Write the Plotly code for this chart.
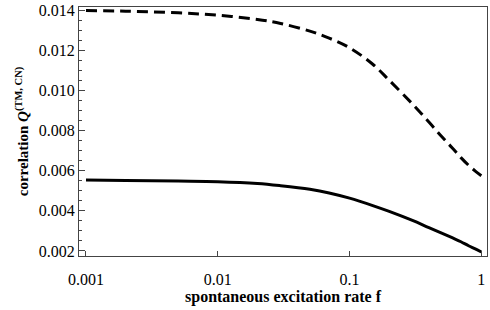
import plotly.graph_objects as go

f_vals = [0.001, 0.002, 0.005, 0.01, 0.02, 0.03, 0.05, 0.07, 0.1, 0.15,
          0.2, 0.3, 0.4, 0.5, 0.6, 0.7, 0.8, 0.9, 1.0]
q_solid = [0.00553, 0.00551, 0.00548, 0.00545, 0.00536, 0.00525, 0.00507,
           0.00489, 0.00463, 0.00426, 0.00397, 0.00352, 0.00316, 0.00289,
           0.00266, 0.00246, 0.00226, 0.00210, 0.00195]
q_dashed = [0.01397, 0.01394, 0.01386, 0.01374, 0.01353, 0.01333, 0.01295,
            0.01260, 0.01212, 0.01130, 0.01050, 0.00932, 0.00842, 0.00770,
            0.00714, 0.00665, 0.00627, 0.00598, 0.00575]
x_ticks = [0.001, 0.01, 0.1, 1]
x_ticklabels = ["0.001", "0.01", "0.1", "1"]
y_ticks = [0.002, 0.004, 0.006, 0.008, 0.010, 0.012, 0.014]
y_ticklabels = ["0.002", "0.004", "0.006", "0.008", "0.010", "0.012", "0.014"]

fig = go.Figure()
fig.add_trace(go.Scatter(x=f_vals, y=q_dashed, mode="lines",
                         line=dict(color="black", width=3, dash="11px,6px", shape="spline"),
                         showlegend=False))
fig.add_trace(go.Scatter(x=f_vals, y=q_solid, mode="lines",
                         line=dict(color="black", width=3, shape="spline"),
                         showlegend=False))

font_family = "Liberation Serif"
fig.update_layout(
    width=490, height=310,
    margin=dict(l=79, r=2, t=3, b=54),
    paper_bgcolor="white", plot_bgcolor="white",
    font=dict(family=font_family, color="black"),
)
fig.update_xaxes(
    type="log", range=[-3.053, 0.043],
    tickvals=x_ticks, ticktext=x_ticklabels,
    ticks="inside", ticklen=5, tickcolor="#444",
    showline=True, linecolor="#444", linewidth=1, mirror=True,
    showgrid=False, zeroline=False,
    ticklabelstandoff=9,
    tickfont=dict(size=16, family=font_family),
    title=dict(text="<b>spontaneous excitation rate f</b>", font=dict(size=16, family=font_family), standoff=3),
)
fig.update_yaxes(
    range=[0.00175, 0.01415],
    tickvals=y_ticks, ticktext=y_ticklabels,
    ticks="inside", ticklen=6, tickcolor="#444",
    minor=dict(dtick=0.0005, tick0=0.002, ticks="inside", ticklen=3, tickcolor="#444", showgrid=False),
    showline=True, linecolor="#444", linewidth=1, mirror=True,
    showgrid=False, zeroline=False,
    ticklabeloverflow="allow",
    tickfont=dict(size=16, family=font_family),
    title=dict(text="<b>correlation <i>Q</i><sup>(TM, CN)</sup></b>", font=dict(size=15, family=font_family), standoff=6),
)

fig.write_html("out.html", config={"displayModeBar": False},
               post_script="document.body.style.margin='0';document.body.style.overflow='hidden';")
